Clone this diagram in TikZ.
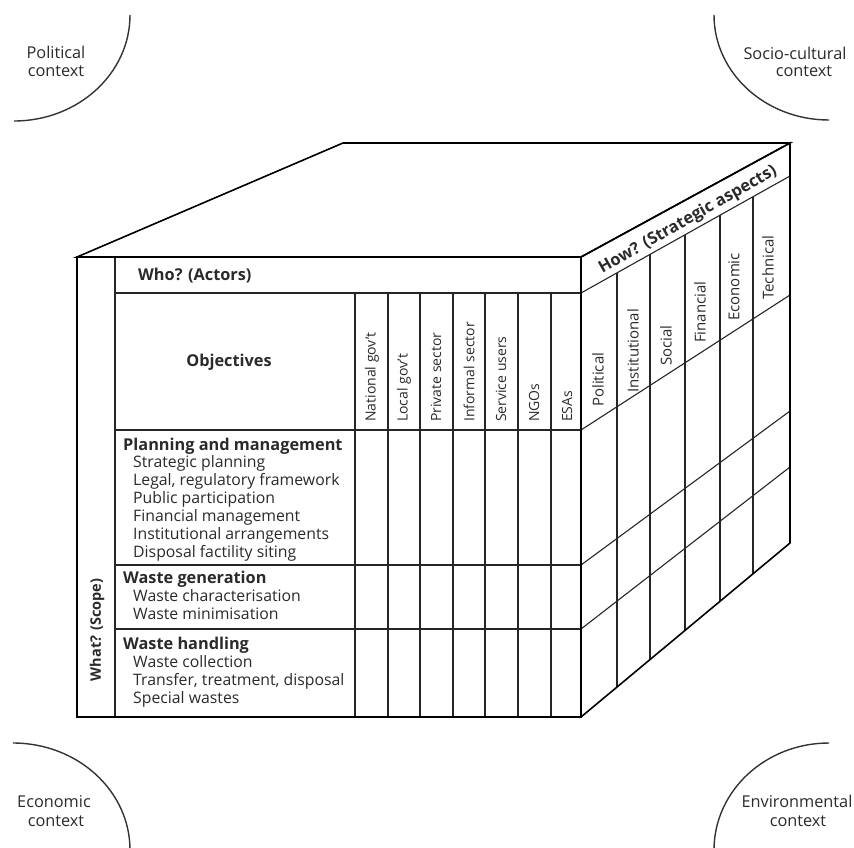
\documentclass[tikz,border=0pt]{standalone}
\usepackage{fontspec}
\setmainfont{Open Sans}
\usetikzlibrary{calc}
\definecolor{txt}{HTML}{2A2A2A}
\begin{document}
\begin{tikzpicture}[x=1pt,y=-1pt,
  outer/.style={line width=1.6pt, line join=miter, black},
  grid/.style={line width=1.1pt, black!85},
  ctx/.style={line width=1.4pt, black!80},
  lbl/.style={inner sep=0pt, text=txt},
  item/.style={lbl, anchor=base west, font=\fontsize{15.8}{17}\selectfont},
  ihead/.style={lbl, anchor=base west, font=\fontsize{16.3}{17}\selectfont\bfseries},
  vlab/.style={lbl, anchor=west, rotate=90, font=\fontsize{14}{15}\selectfont},
  hlab/.style={lbl, anchor=west, rotate=90, font=\fontsize{15}{16}\selectfont},
  ctxlab/.style={lbl, anchor=base, font=\fontsize{16.3}{17}\selectfont}]
\useasboundingbox (0,0) rectangle (854,847);

% cube corners
\coordinate (FTL) at (77,257);
\coordinate (FTR) at (581,257);
\coordinate (FBL) at (77,717);
\coordinate (FBR) at (581,717);
\coordinate (BTL) at (343,143);
\coordinate (BTR) at (790,143);
\coordinate (BBR) at (790,543);

% front grid
\draw[grid] (115,257) -- (115,717);
\foreach \y in {293,430,565,629} \draw[grid] (115,\y) -- (581,\y);
\foreach \x in {355,388,420,453,485,518,551} \draw[grid] (\x,293) -- (\x,717);

% right face grid
\draw[grid] (581,293) -- (790,176);
\draw[grid] (581,430) -- (790,295);
\draw[grid] (581,565) -- (790,411);
\draw[grid] (581,629) -- (790,467);
\foreach \x in {617,650,685,720,753} {
  \pgfmathsetmacro\t{(\x-581)/209}
  \draw[grid] ($(581,293)!\t!(790,176)$) -- ($(581,717)!\t!(790,543)$);
}

% outlines
\draw[outer] (FTL) -- (BTL) -- (BTR) -- (FTR) -- cycle;
\draw[outer] (FTR) -- (BTR) -- (BBR) -- (FBR);
\draw[outer] (FTL) rectangle (FBR);

% headers
\node[lbl, anchor=west, font=\fontsize{16.3}{17}\selectfont\bfseries] (who) at (138,276) {Who? (Actors)};
\node[lbl, font=\fontsize{16.3}{17}\selectfont\bfseries] (obj) at (229,362) {Objectives};
\node[lbl, rotate=90, font=\fontsize{14.5}{16}\selectfont\bfseries] (what) at (97,630) {What? (Scope)};
\node[lbl, rotate=29.5, font=\fontsize{16.5}{17}\selectfont\bfseries] (how) at (688,220) {How? (Strategic aspects)};

% actors
\node[vlab] (a1) at (372,422) {National gov't};
\node[vlab] (a2) at (404,422) {Local gov't};
\node[vlab] (a3) at (436,422) {Private sector};
\node[vlab] (a4) at (469,422) {Informal sector};
\node[vlab] (a5) at (501,422) {Service users};
\node[vlab] (a6) at (534,422) {NGOs};
\node[vlab] (a7) at (567,422) {ESAs};

% strategic aspects
\node[hlab] (s1) at (598,407) {Political};
\node[hlab] (s2) at (633,393) {Institutional};
\node[hlab] (s3) at (666,366) {Social};
\node[hlab] (s4) at (700,343) {Financial};
\node[hlab] (s5) at (734,321) {Economic};
\node[hlab] (s6) at (768,300) {Technical};

% scope rows
\node[ihead] (p0) at (123,450) {Planning and management};
\node[item] (p1) at (133,467) {Strategic planning};
\node[item] (p2) at (133,485) {Legal, regulatory framework};
\node[item] (p3) at (133,503) {Public participation};
\node[item] (p4) at (133,521) {Financial management};
\node[item] (p5) at (133,539) {Institutional arrangements};
\node[item] (p6) at (133,557) {Disposal factility siting};
\node[ihead] (g0) at (123,583) {Waste generation};
\node[item] (g1) at (133,601) {Waste characterisation};
\node[item] (g2) at (133,619) {Waste minimisation};
\node[ihead] (h0) at (123,649) {Waste handling};
\node[item] (h1) at (133,667) {Waste collection};
\node[item] (h2) at (133,685) {Transfer, treatment, disposal};
\node[item] (h3) at (133,703) {Special wastes};

% context arcs
\draw[ctx] (130,15) arc[start angle=0, end angle=90, x radius=116, y radius=106];
\draw[ctx] (714,15) arc[start angle=180, end angle=90, x radius=115, y radius=105];
\draw[ctx] (13,743) arc[start angle=-90, end angle=0, x radius=117, y radius=107];
\draw[ctx] (829,743) arc[start angle=270, end angle=180, x radius=115, y radius=107];

\node[ctxlab] (c1a) at (56,58) {Political};
\node[ctxlab] (c1b) at (56,76) {context};
\node[ctxlab] (c2a) at (795,59) {Socio-cultural};
\node[ctxlab] (c2b) at (804,76) {context};
\node[ctxlab] (c3a) at (54,807) {Economic};
\node[ctxlab] (c3b) at (56,826) {context};
\node[ctxlab] (c4a) at (797,807) {Environmental};
\node[ctxlab] (c4b) at (798,826) {context};
\end{tikzpicture}
\end{document}
